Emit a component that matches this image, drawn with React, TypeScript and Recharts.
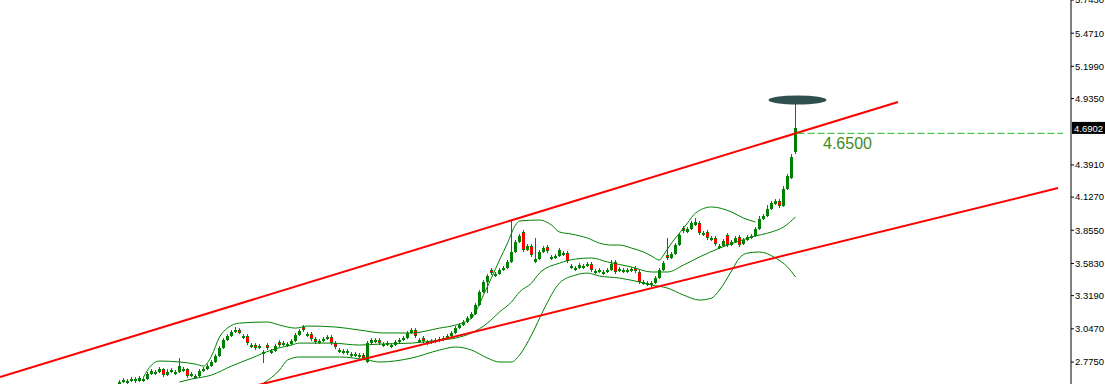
import { Bar, ComposedChart, Line, ReferenceDot, ReferenceLine, XAxis, YAxis } from "recharts"

// candles, oldest first (one bar every 4px on screen)
const opens = [
  2.586, 2.611, 2.602, 2.619, 2.635, 2.619, 2.619, 2.635, 2.676, 2.676,
  2.693, 2.717, 2.668, 2.693, 2.676, 2.693, 2.701, 2.717, 2.66, 2.643,
  2.66, 2.701, 2.717, 2.742, 2.775, 2.824, 2.889, 2.955, 2.988, 3.021,
  3.037, 2.971, 2.988, 2.898, 2.914, 2.889, 2.84, 2.914, 2.849, 2.865,
  2.938, 2.914, 2.906, 2.922, 2.947, 2.996, 3.062, 2.988, 3.004, 2.963,
  2.93, 2.947, 2.963, 2.98, 2.93, 2.857, 2.849, 2.865, 2.824, 2.824,
  2.816, 2.832, 2.775, 2.93, 2.938, 2.955, 2.906, 2.914, 2.898, 2.914,
  2.938, 2.955, 2.971, 3.013, 3.037, 2.938, 2.971, 2.922, 2.93, 2.938,
  2.947, 2.955, 2.971, 2.988, 3.013, 3.053, 3.078, 3.103, 3.135, 3.168,
  3.242, 3.349, 3.431, 3.529, 3.48, 3.496, 3.529, 3.545, 3.595, 3.677,
  3.759, 3.841, 3.693, 3.726, 3.595, 3.619, 3.677, 3.718, 3.619, 3.628,
  3.644, 3.652, 3.668, 3.545, 3.529, 3.545, 3.545, 3.562, 3.578, 3.504,
  3.513, 3.496, 3.513, 3.529, 3.595, 3.521, 3.513, 3.513, 3.521, 3.545,
  3.513, 3.414, 3.406, 3.406, 3.422, 3.463, 3.529, 3.652, 3.628, 3.66,
  3.734, 3.873, 3.841, 3.865, 3.898, 3.914, 3.816, 3.841, 3.775, 3.791,
  3.709, 3.726, 3.816, 3.734, 3.759, 3.8, 3.742, 3.775, 3.791, 3.808,
  3.865, 3.947, 3.972, 4.029, 4.07, 4.095, 4.054, 4.193, 4.283, 4.497,
]
const closes = [
  2.611, 2.627, 2.619, 2.635, 2.619, 2.643, 2.635, 2.676, 2.701, 2.693,
  2.717, 2.668, 2.693, 2.709, 2.693, 2.742, 2.717, 2.66, 2.676, 2.66,
  2.701, 2.717, 2.742, 2.775, 2.824, 2.889, 2.955, 2.988, 3.021, 3.037,
  3.013, 2.988, 2.93, 2.914, 2.889, 2.906, 2.857, 2.889, 2.865, 2.906,
  2.914, 2.93, 2.922, 2.947, 2.996, 3.029, 3.037, 3.004, 2.963, 2.938,
  2.947, 2.963, 2.98, 2.93, 2.898, 2.873, 2.865, 2.849, 2.84, 2.84,
  2.832, 2.807, 2.93, 2.955, 2.955, 2.93, 2.922, 2.93, 2.914, 2.938,
  2.955, 2.971, 3.013, 3.037, 2.988, 2.955, 2.947, 2.938, 2.947, 2.955,
  2.963, 2.971, 2.988, 3.013, 3.053, 3.078, 3.103, 3.135, 3.168, 3.242,
  3.349, 3.431, 3.48, 3.504, 3.496, 3.529, 3.545, 3.595, 3.677, 3.759,
  3.808, 3.693, 3.726, 3.652, 3.619, 3.677, 3.709, 3.685, 3.636, 3.644,
  3.693, 3.668, 3.603, 3.562, 3.545, 3.57, 3.562, 3.578, 3.529, 3.521,
  3.529, 3.513, 3.529, 3.578, 3.513, 3.537, 3.529, 3.529, 3.537, 3.521,
  3.431, 3.431, 3.422, 3.422, 3.463, 3.529, 3.586, 3.628, 3.66, 3.734,
  3.816, 3.849, 3.865, 3.914, 3.923, 3.832, 3.832, 3.791, 3.791, 3.742,
  3.726, 3.767, 3.734, 3.759, 3.791, 3.734, 3.775, 3.8, 3.808, 3.865,
  3.947, 3.972, 4.029, 4.078, 4.095, 4.054, 4.193, 4.3, 4.456, 4.6902,
]
const highs = [
  2.627, 2.643, 2.635, 2.652, 2.651, 2.66, 2.651, 2.693, 2.717, 2.709,
  2.734, 2.725, 2.717, 2.725, 2.709, 2.807, 2.734, 2.725, 2.693, 2.676,
  2.717, 2.734, 2.758, 2.791, 2.84, 2.906, 2.971, 3.004, 3.037, 3.062,
  3.053, 3.004, 3.004, 2.93, 2.93, 2.922, 2.873, 2.93, 2.881, 2.922,
  2.955, 2.947, 2.938, 2.963, 3.013, 3.045, 3.078, 3.021, 3.021, 2.98,
  2.963, 2.98, 2.996, 2.996, 2.947, 2.889, 2.881, 2.881, 2.857, 2.857,
  2.849, 2.849, 2.947, 2.971, 2.971, 2.971, 2.938, 2.947, 2.93, 2.955,
  2.971, 2.988, 3.029, 3.053, 3.053, 2.971, 2.988, 2.955, 2.963, 2.971,
  2.98, 2.988, 3.004, 3.029, 3.07, 3.094, 3.119, 3.152, 3.185, 3.258,
  3.365, 3.447, 3.496, 3.545, 3.513, 3.545, 3.562, 3.611, 3.939, 3.775,
  3.824, 3.857, 3.742, 3.742, 3.791, 3.693, 3.726, 3.734, 3.652, 3.66,
  3.709, 3.685, 3.685, 3.578, 3.562, 3.586, 3.578, 3.595, 3.595, 3.537,
  3.545, 3.529, 3.545, 3.611, 3.611, 3.554, 3.545, 3.545, 3.554, 3.562,
  3.529, 3.447, 3.439, 3.439, 3.48, 3.545, 3.603, 3.791, 3.677, 3.75,
  3.832, 3.89, 3.881, 3.931, 3.955, 3.931, 3.849, 3.857, 3.808, 3.808,
  3.742, 3.783, 3.832, 3.775, 3.808, 3.816, 3.791, 3.816, 3.824, 3.881,
  3.972, 3.988, 4.062, 4.095, 4.111, 4.111, 4.218, 4.316, 4.48, 4.923,
]
const lows = [
  2.578, 2.602, 2.594, 2.611, 2.603, 2.611, 2.611, 2.627, 2.668, 2.668,
  2.684, 2.652, 2.66, 2.684, 2.668, 2.684, 2.693, 2.643, 2.652, 2.635,
  2.652, 2.693, 2.709, 2.734, 2.767, 2.816, 2.881, 2.947, 2.98, 3.013,
  3.004, 2.963, 2.914, 2.889, 2.873, 2.881, 2.767, 2.873, 2.84, 2.857,
  2.898, 2.906, 2.898, 2.914, 2.938, 2.988, 3.021, 2.98, 2.947, 2.922,
  2.922, 2.938, 2.955, 2.914, 2.881, 2.849, 2.84, 2.832, 2.816, 2.816,
  2.807, 2.791, 2.767, 2.922, 2.93, 2.914, 2.898, 2.906, 2.889, 2.906,
  2.93, 2.947, 2.963, 3.004, 2.971, 2.93, 2.93, 2.914, 2.922, 2.93,
  2.938, 2.947, 2.963, 2.98, 3.004, 3.045, 3.07, 3.094, 3.127, 3.16,
  3.234, 3.34, 3.34, 3.488, 3.472, 3.488, 3.521, 3.537, 3.586, 3.668,
  3.75, 3.677, 3.685, 3.636, 3.586, 3.611, 3.668, 3.668, 3.611, 3.619,
  3.636, 3.644, 3.586, 3.537, 3.521, 3.537, 3.537, 3.554, 3.513, 3.496,
  3.504, 3.488, 3.504, 3.521, 3.496, 3.513, 3.504, 3.504, 3.513, 3.504,
  3.414, 3.406, 3.398, 3.39, 3.414, 3.455, 3.521, 3.611, 3.619, 3.652,
  3.726, 3.832, 3.832, 3.857, 3.89, 3.816, 3.808, 3.775, 3.767, 3.726,
  3.701, 3.718, 3.718, 3.726, 3.75, 3.718, 3.734, 3.767, 3.783, 3.8,
  3.857, 3.939, 3.963, 4.021, 4.062, 4.037, 4.046, 4.185, 4.275, 4.48,
]

// bollinger bands: [candle index, price]
const upperBand = [
  [6, 2.652], [8, 2.75], [10, 2.783], [15, 2.775], [19, 2.758], [21, 2.742], [23, 2.824],
  [25, 2.98], [27, 3.053], [30, 3.094], [37, 3.103], [40, 3.078], [44, 3.053], [47, 3.07],
  [54, 3.062], [60, 3.037], [66, 3.013], [73, 3.013], [80, 3.053], [84, 3.078], [88, 3.135],
  [91, 3.324], [95, 3.611], [97, 3.75], [99, 3.898], [100, 3.931], [105, 3.939], [108, 3.898],
  [110, 3.841], [113, 3.824], [117, 3.791], [120, 3.75], [123, 3.734], [125, 3.734],
  [128, 3.709], [131, 3.677], [133, 3.644], [135, 3.611], [136, 3.652], [138, 3.75],
  [140, 3.832], [142, 3.914], [144, 3.996], [148, 4.046], [153, 4.005], [156, 3.955], [159, 3.923],
]
const middleBand = [
  [15, 2.611], [18, 2.635], [23, 2.668], [28, 2.742], [33, 2.807], [38, 2.873], [43, 2.914],
  [45, 2.93], [53, 2.93], [60, 2.914], [65, 2.922], [73, 2.93], [80, 2.955], [84, 2.971],
  [88, 3.013], [92, 3.094], [95, 3.185], [98, 3.267], [100, 3.349], [103, 3.422], [105, 3.504],
  [110, 3.586], [114, 3.619], [118, 3.628], [122, 3.595], [128, 3.554], [133, 3.513],
  [137, 3.513], [141, 3.57], [145, 3.636], [150, 3.709], [155, 3.767], [158, 3.8],
  [163, 3.841], [166, 3.882], [169, 3.964],
]
const lowerBand = [
  [36, 2.602], [40, 2.709], [42, 2.791], [45, 2.816], [55, 2.816], [62, 2.791],
  [65, 2.775], [73, 2.807], [80, 2.873], [84, 2.898], [88, 2.873], [92, 2.807], [95, 2.775],
  [98, 2.775], [100, 2.832], [103, 2.996], [106, 3.201], [110, 3.422], [114, 3.488],
  [117, 3.504], [120, 3.48], [125, 3.463], [130, 3.431], [133, 3.406], [137, 3.381],
  [141, 3.324], [145, 3.283], [148, 3.299], [150, 3.365], [153, 3.521], [155, 3.628],
  [157, 3.668], [160, 3.677], [164, 3.628], [167, 3.554], [169, 3.472],
]

// trend channel drawn on the chart: [candle index, price]
const channelTop = [[-29.875, 2.652], [194.625, 4.907]]
const channelBottom = [[30, 2.549], [234.625, 4.201]]

const priceTicks = [5.743, 5.471, 5.199, 4.935, 4.391, 4.127, 3.855, 3.583, 3.319, 3.047, 2.775]
const lastPrice = 4.6902
const targetPrice = 4.65
const spikeTop = 4.923

const rows: any[] = closes.map((c, i) => ({
  i,
  open: opens[i],
  close: c,
  high: highs[i],
  low: lows[i],
  range: [lows[i], highs[i]],
}))
upperBand.forEach(([i, v]) => (rows[i].upper = v))
middleBand.forEach(([i, v]) => (rows[i].middle = v))
lowerBand.forEach(([i, v]) => (rows[i].lower = v))

function Candle(props: any) {
  const { x, y, width, height, payload } = props
  if (height == null || !payload) return null
  const { open, close, high, low } = payload
  const k = height / (high - low)
  const yo = y + (high - open) * k
  const yc = y + (high - close) * k
  const left = Math.round(x + width / 2 - 1.5)
  const top = Math.round(Math.min(yo, yc))
  const bodyH = Math.max(2, Math.round(Math.abs(yo - yc)))
  const up = close >= open
  return (
    <g>
      <rect x={left + 1} y={y} width={1} height={height} fill="#008000" />
      {up ? (
        <rect x={left} y={top} width={3} height={bodyH} fill="#008000" />
      ) : (
        <g>
          <rect x={left} y={top} width={3} height={bodyH} fill="#ff0000" />
          <rect x={left} y={top} width={3} height={1} fill="#008000" />
          <rect x={left} y={top + bodyH - 1} width={3} height={1} fill="#008000" />
        </g>
      )}
    </g>
  )
}

export default function App() {
  return (
    <div style={{ position: "absolute", left: 0, top: 0, width: 1105, height: 384, background: "#fff" }}>
      <ComposedChart width={1105} height={384} data={rows} margin={{ top: 0, right: 0, bottom: 0, left: 0 }}>
        <XAxis dataKey="i" type="number" domain={[-29.875, 237.875]} hide allowDataOverflow />
        <YAxis
          orientation="right"
          type="number"
          domain={[2.5947, 5.743]}
          ticks={priceTicks}
          interval={0}
          allowDataOverflow
          width={34}
          tickSize={3}
          tickMargin={1}
          stroke="#000"
          tick={{ fontSize: 9.5, fill: "#000", fontFamily: "Liberation Sans" }}
          tickFormatter={(v) => v.toFixed(4)}
        />
        <Line dataKey="upper" type="monotone" stroke="#008000" strokeWidth={1} dot={false} connectNulls isAnimationActive={false} />
        <Line dataKey="middle" type="monotone" stroke="#008000" strokeWidth={1} dot={false} connectNulls isAnimationActive={false} />
        <Line dataKey="lower" type="monotone" stroke="#008000" strokeWidth={1} dot={false} connectNulls isAnimationActive={false} />
        <Bar dataKey="range" barSize={3} shape={(p: any) => <Candle {...p} />} isAnimationActive={false} />
        <ReferenceLine
          segment={channelTop.map(([x, y]) => ({ x, y }))}
          stroke="#ff0000"
          strokeWidth={2}
          ifOverflow="hidden"
        />
        <ReferenceLine
          segment={channelBottom.map(([x, y]) => ({ x, y }))}
          stroke="#ff0000"
          strokeWidth={2}
          ifOverflow="hidden"
        />
        <ReferenceLine
          segment={[{ x: 169.5, y: targetPrice }, { x: 235.875, y: targetPrice }]}
          stroke="#22bb22"
          strokeDasharray="7 3"
        />
        <ReferenceDot
          x={175.875}
          y={targetPrice}
          shape={(p: any) => (
            <text x={p.cx} y={p.cy + 16} fill="#3d8b1e" fontSize={16} fontFamily="Liberation Sans">
              {targetPrice.toFixed(4)}
            </text>
          )}
        />
        <ReferenceDot
          x={169.5}
          y={spikeTop}
          shape={(p: any) => <ellipse cx={p.cx} cy={p.cy} rx={29} ry={4.5} fill="#2f4f4f" />}
        />
        <ReferenceDot
          x={237.875}
          y={lastPrice}
          shape={(p: any) => (
            <g>
              <rect x={p.cx + 1} y={p.cy - 6.5} width={34} height={12} fill="#000" />
              <text x={p.cx + 3} y={p.cy} dy="0.35em" fill="#fff" fontSize={9.5} fontFamily="Liberation Sans">
                {lastPrice.toFixed(4)}
              </text>
            </g>
          )}
        />
      </ComposedChart>
    </div>
  )
}
